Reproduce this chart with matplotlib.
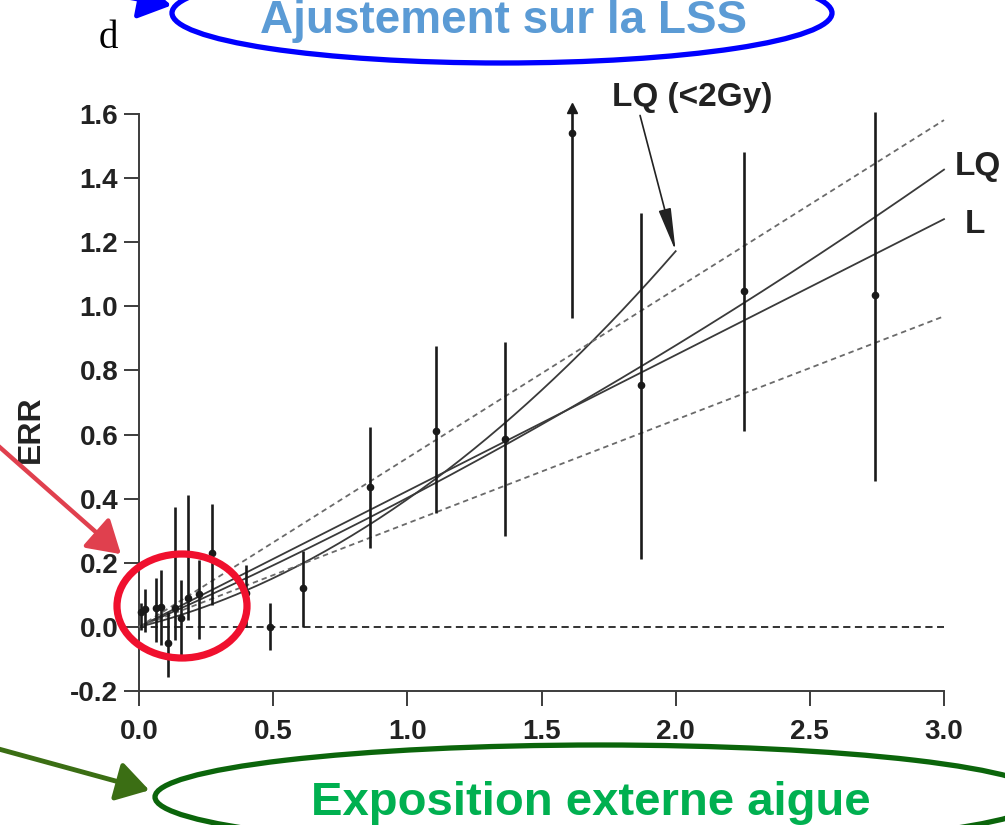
import numpy as np
import matplotlib
matplotlib.use("Agg")
import matplotlib.pyplot as plt
from matplotlib.patches import Ellipse, FancyArrowPatch

# ---------------- data ----------------
dose = [0.008, 0.023, 0.064, 0.083, 0.107, 0.133, 0.158, 0.181, 0.225, 0.272,
        0.400, 0.488, 0.611, 0.861, 1.107, 1.364, 1.613, 1.870, 2.255, 2.743]
err = [0.045, 0.055, 0.059, 0.063, -0.051, 0.060, 0.027, 0.090, 0.102, 0.230,
       0.106, 0.000, 0.120, 0.437, 0.610, 0.585, 1.540, 0.755, 1.048, 1.036]
err_lo = [-0.010, -0.015, -0.046, -0.056, -0.155, -0.040, -0.103, 0.020, -0.037, 0.069,
          0.000, -0.072, 0.000, 0.246, 0.356, 0.285, 0.964, 0.212, 0.610, 0.455]
err_hi = [0.075, 0.119, 0.154, 0.176, 0.048, 0.375, 0.147, 0.412, 0.209, 0.383,
          0.193, 0.075, 0.237, 0.624, 0.877, 0.890, 1.620, 1.290, 1.483, 1.605]
arrow_idx = 16  # upper CI beyond the axis

# fitted models ERR = a*d + b*d^2
fit_L = (0.424, 0.0)
fit_LQ = (0.366, 0.0365)
fit_LQ2 = (0.210, 0.188)      # LQ fitted below 2 Gy
ci_L_upper = (0.527, 0.0)
ci_L_lower = (0.323, 0.0)
dose_max = 3.0
dose_max_lq2 = 2.0

x_ticks = [0.0, 0.5, 1.0, 1.5, 2.0, 2.5, 3.0]
y_ticks = [-0.2, 0.0, 0.2, 0.4, 0.6, 0.8, 1.0, 1.2, 1.4, 1.6]
y_label = "ERR"
label_lq2 = "LQ (<2Gy)"
label_lq = "LQ"
label_l = "L"
panel_letter = "d"
title_top = "Ajustement sur la LSS"
title_bottom = "Exposition externe aigue"

# ---------------- figure ----------------
W, H = 1005, 825
fig = plt.figure(figsize=(W / 100, H / 100), dpi=100)
plt.rcParams['font.family'] = ['Liberation Sans', 'DejaVu Sans']

def fx(px):
    return px / W

def fy(py):
    return 1 - py / H

x0, x1, ytop, ybot = 139, 944, 114, 691
ax = fig.add_axes([fx(x0), fy(ybot), fx(x1) - fx(x0), fy(ytop) - fy(ybot)])
ax.set_xlim(0, 3.0)
ax.set_ylim(-0.2, 1.6)

axis_col = '#3c3c3c'
for s in ['top', 'right']:
    ax.spines[s].set_visible(False)
for s in ['left', 'bottom']:
    ax.spines[s].set_color(axis_col)
    ax.spines[s].set_linewidth(1.4)
ax.tick_params(direction='out', length=11, width=1.4, color=axis_col,
               labelsize=20, labelcolor='#222222')
ax.tick_params(axis='y', pad=4)
ax.tick_params(axis='x', pad=9)
ax.set_xticks(x_ticks)
ax.set_yticks(y_ticks)
ax.set_xticklabels([f"{v:.1f}" for v in x_ticks], fontweight='bold')
ax.set_yticklabels([f"{v:.1f}" for v in y_ticks], fontweight='bold')
ax.set_ylabel(y_label, fontsize=23, fontweight='bold', color='#222222')
ax.yaxis.set_label_coords(-0.116, 0.453)

# zero line
ax.plot([0, dose_max], [0, 0], color='#222222', lw=1.3, ls=(0, (4, 2.5)), zorder=2)

# fitted lines
xs = np.linspace(0, dose_max, 200)
xs2 = np.linspace(0, dose_max_lq2, 200)
line_col = '#3a3a3a'
for (a, b) in (fit_L, fit_LQ):
    ax.plot(xs, a * xs + b * xs ** 2, color=line_col, lw=1.3, zorder=3, clip_on=False)
ax.plot(xs2, fit_LQ2[0] * xs2 + fit_LQ2[1] * xs2 ** 2, color=line_col, lw=1.3,
        zorder=3, clip_on=False)
for (a, b) in (ci_L_upper, ci_L_lower):
    ax.plot(xs, a * xs + b * xs ** 2, color='#6a6a6a', lw=1.3, ls=(0, (3, 2.2)),
            zorder=3, clip_on=False)

# data with error bars
d = np.array(dose)
e = np.array(err)
lo = np.array(err_lo)
hi = np.array(err_hi)
eb = ax.errorbar(d, e, yerr=[e - lo, hi - e], fmt='o', color='#1a1a1a', ms=4.5,
                 elinewidth=1.9, capsize=0, zorder=4)
for art in eb.lines[2]:
    art.set_clip_on(False)
eb.lines[0].set_clip_on(False)
ax.plot([dose[arrow_idx]], [err_hi[arrow_idx]], marker='^', ms=7, color='#1a1a1a',
        clip_on=False, zorder=5)

# labels on lines
lq2_end = fit_LQ2[0] * dose_max_lq2 + fit_LQ2[1] * dose_max_lq2 ** 2
ax.annotate(label_lq2, xy=(dose_max_lq2, lq2_end),
            xytext=(1.763, 1.626), textcoords='data', fontsize=24, fontweight='bold',
            color='#222222', ha='left', va='baseline', annotation_clip=False,
            arrowprops=dict(arrowstyle='-|>,head_length=1.1,head_width=0.16',
                            color='#222222', lw=1.2, shrinkA=0, shrinkB=0,
                            relpos=(0.17, 0.0)))
ax.text(3.041, 1.41, label_lq, fontsize=24, fontweight='bold', color='#222222',
        ha='left', va='baseline', clip_on=False)
ax.text(3.079, 1.23, label_l, fontsize=24, fontweight='bold', color='#222222',
        ha='left', va='baseline', clip_on=False)

# ---------------- slide annotations ----------------
# blue ellipse + title
fig.add_artist(Ellipse((fx(502), fy(13)), fx(660), 100 / H, fill=False,
                       edgecolor='#0000FF', lw=3.8, transform=fig.transFigure))
fig.text(fx(504), fy(33), title_top, fontsize=33, fontweight='bold', color='#5B9BD5',
         ha='center', va='baseline')
fig.add_artist(FancyArrowPatch((fx(70), fy(-14)), (fx(174), fy(6)),
                               transform=fig.transFigure,
                               arrowstyle='-|>,head_length=0.9,head_width=0.55',
                               mutation_scale=22, color='#0000FF', lw=3.5))
fig.text(fx(108), fy(48), panel_letter, fontsize=28, family='Liberation Serif',
         color='black', ha='center', va='baseline')

# red ellipse + arrow
fig.add_artist(Ellipse((fx(182), fy(606)), fx(130), 104 / H, fill=False,
                       edgecolor='#F0102E', lw=5.2, transform=fig.transFigure, zorder=10))
fig.add_artist(FancyArrowPatch((fx(-5), fy(443)), (fx(123), fy(556)),
                               transform=fig.transFigure,
                               arrowstyle='-|>,head_length=0.9,head_width=0.55',
                               mutation_scale=22, color='#E0404E', lw=3.2))

# green ellipse + title + arrow
fig.add_artist(Ellipse((fx(600), fy(797)), fx(890), 104 / H, fill=False,
                       edgecolor='#0B650B', lw=3.8, transform=fig.transFigure))
fig.text(fx(591), fy(815), title_bottom, fontsize=34, fontweight='bold', color='#00B050',
         ha='center', va='baseline')
fig.add_artist(FancyArrowPatch((fx(-5), fy(748)), (fx(152), fy(791)),
                               transform=fig.transFigure,
                               arrowstyle='-|>,head_length=0.9,head_width=0.55',
                               mutation_scale=22, color='#3B6E14', lw=3.5))

fig.savefig("out.png", dpi=100)
